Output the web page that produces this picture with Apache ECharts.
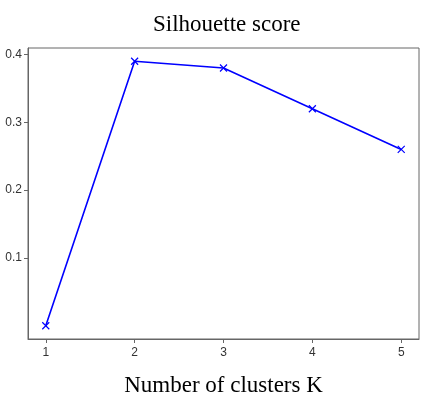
<!DOCTYPE html>
<html>
<head>
<meta charset="utf-8">
<script src="https://cdn.jsdelivr.net/npm/echarts@6/dist/echarts.min.js"></script>
<style>
  html, body { margin: 0; padding: 0; background: #fff; }
  #charts { width: 423px; height: 410px; }
</style>
</head>
<body>
<div id="charts"></div>
<script>
// data
var kValues = [1, 2, 3, 4, 5];
var scores = [0.0, 0.39, 0.38, 0.32, 0.26];
var yTicks = [0.1, 0.2, 0.3, 0.4];

var points = kValues.map(function (k, i) { return [k, scores[i]]; });

var myChart = echarts.init(document.getElementById('charts'));

var option = {
	animation: false,
	title: {
		text: 'Silhouette score',
		left: 148,
		top: 8,
		textStyle: { fontFamily: 'Liberation Serif', fontSize: 23, fontWeight: 'normal', color: '#000' }
	},
	grid: {
		left: 28, right: 4, top: 48, bottom: 71,
		show: true, borderColor: '#666', borderWidth: 1
	},
	xAxis: {
		type: 'value',
		min: 0.8, max: 5.2,
		name: 'Number of clusters K',
		nameLocation: 'middle',
		nameGap: 35,
		nameTextStyle: { fontFamily: 'Liberation Serif', fontSize: 23, color: '#000' },
		splitLine: { show: false },
		axisLine: { onZero: false, lineStyle: { color: '#666' } },
		axisTick: { customValues: kValues, length: 4, lineStyle: { color: '#666' } },
		axisLabel: { customValues: kValues, color: '#333', fontSize: 12, margin: 8 }
	},
	yAxis: {
		type: 'value',
		min: -0.0195, max: 0.4095,
		splitLine: { show: false },
		axisLine: { show: true, onZero: false, lineStyle: { color: '#666' } },
		axisTick: { show: true, customValues: yTicks, length: 4, lineStyle: { color: '#666' } },
		axisLabel: {
			customValues: yTicks, color: '#333', fontSize: 12, margin: 6,
			formatter: function (v) { return v.toFixed(1); }
		}
	},
	series: [{
		type: 'line',
		data: points,
		symbol: 'path://M0,0L10,10M10,0L0,10',
		symbolSize: 7,
		lineStyle: { color: '#0000ff', width: 1.6 },
		itemStyle: { color: 'rgba(0,0,0,0)', borderColor: '#0000ff', borderWidth: 1.2 }
	}]
};

myChart.setOption(option);
</script>
</body>
</html>
